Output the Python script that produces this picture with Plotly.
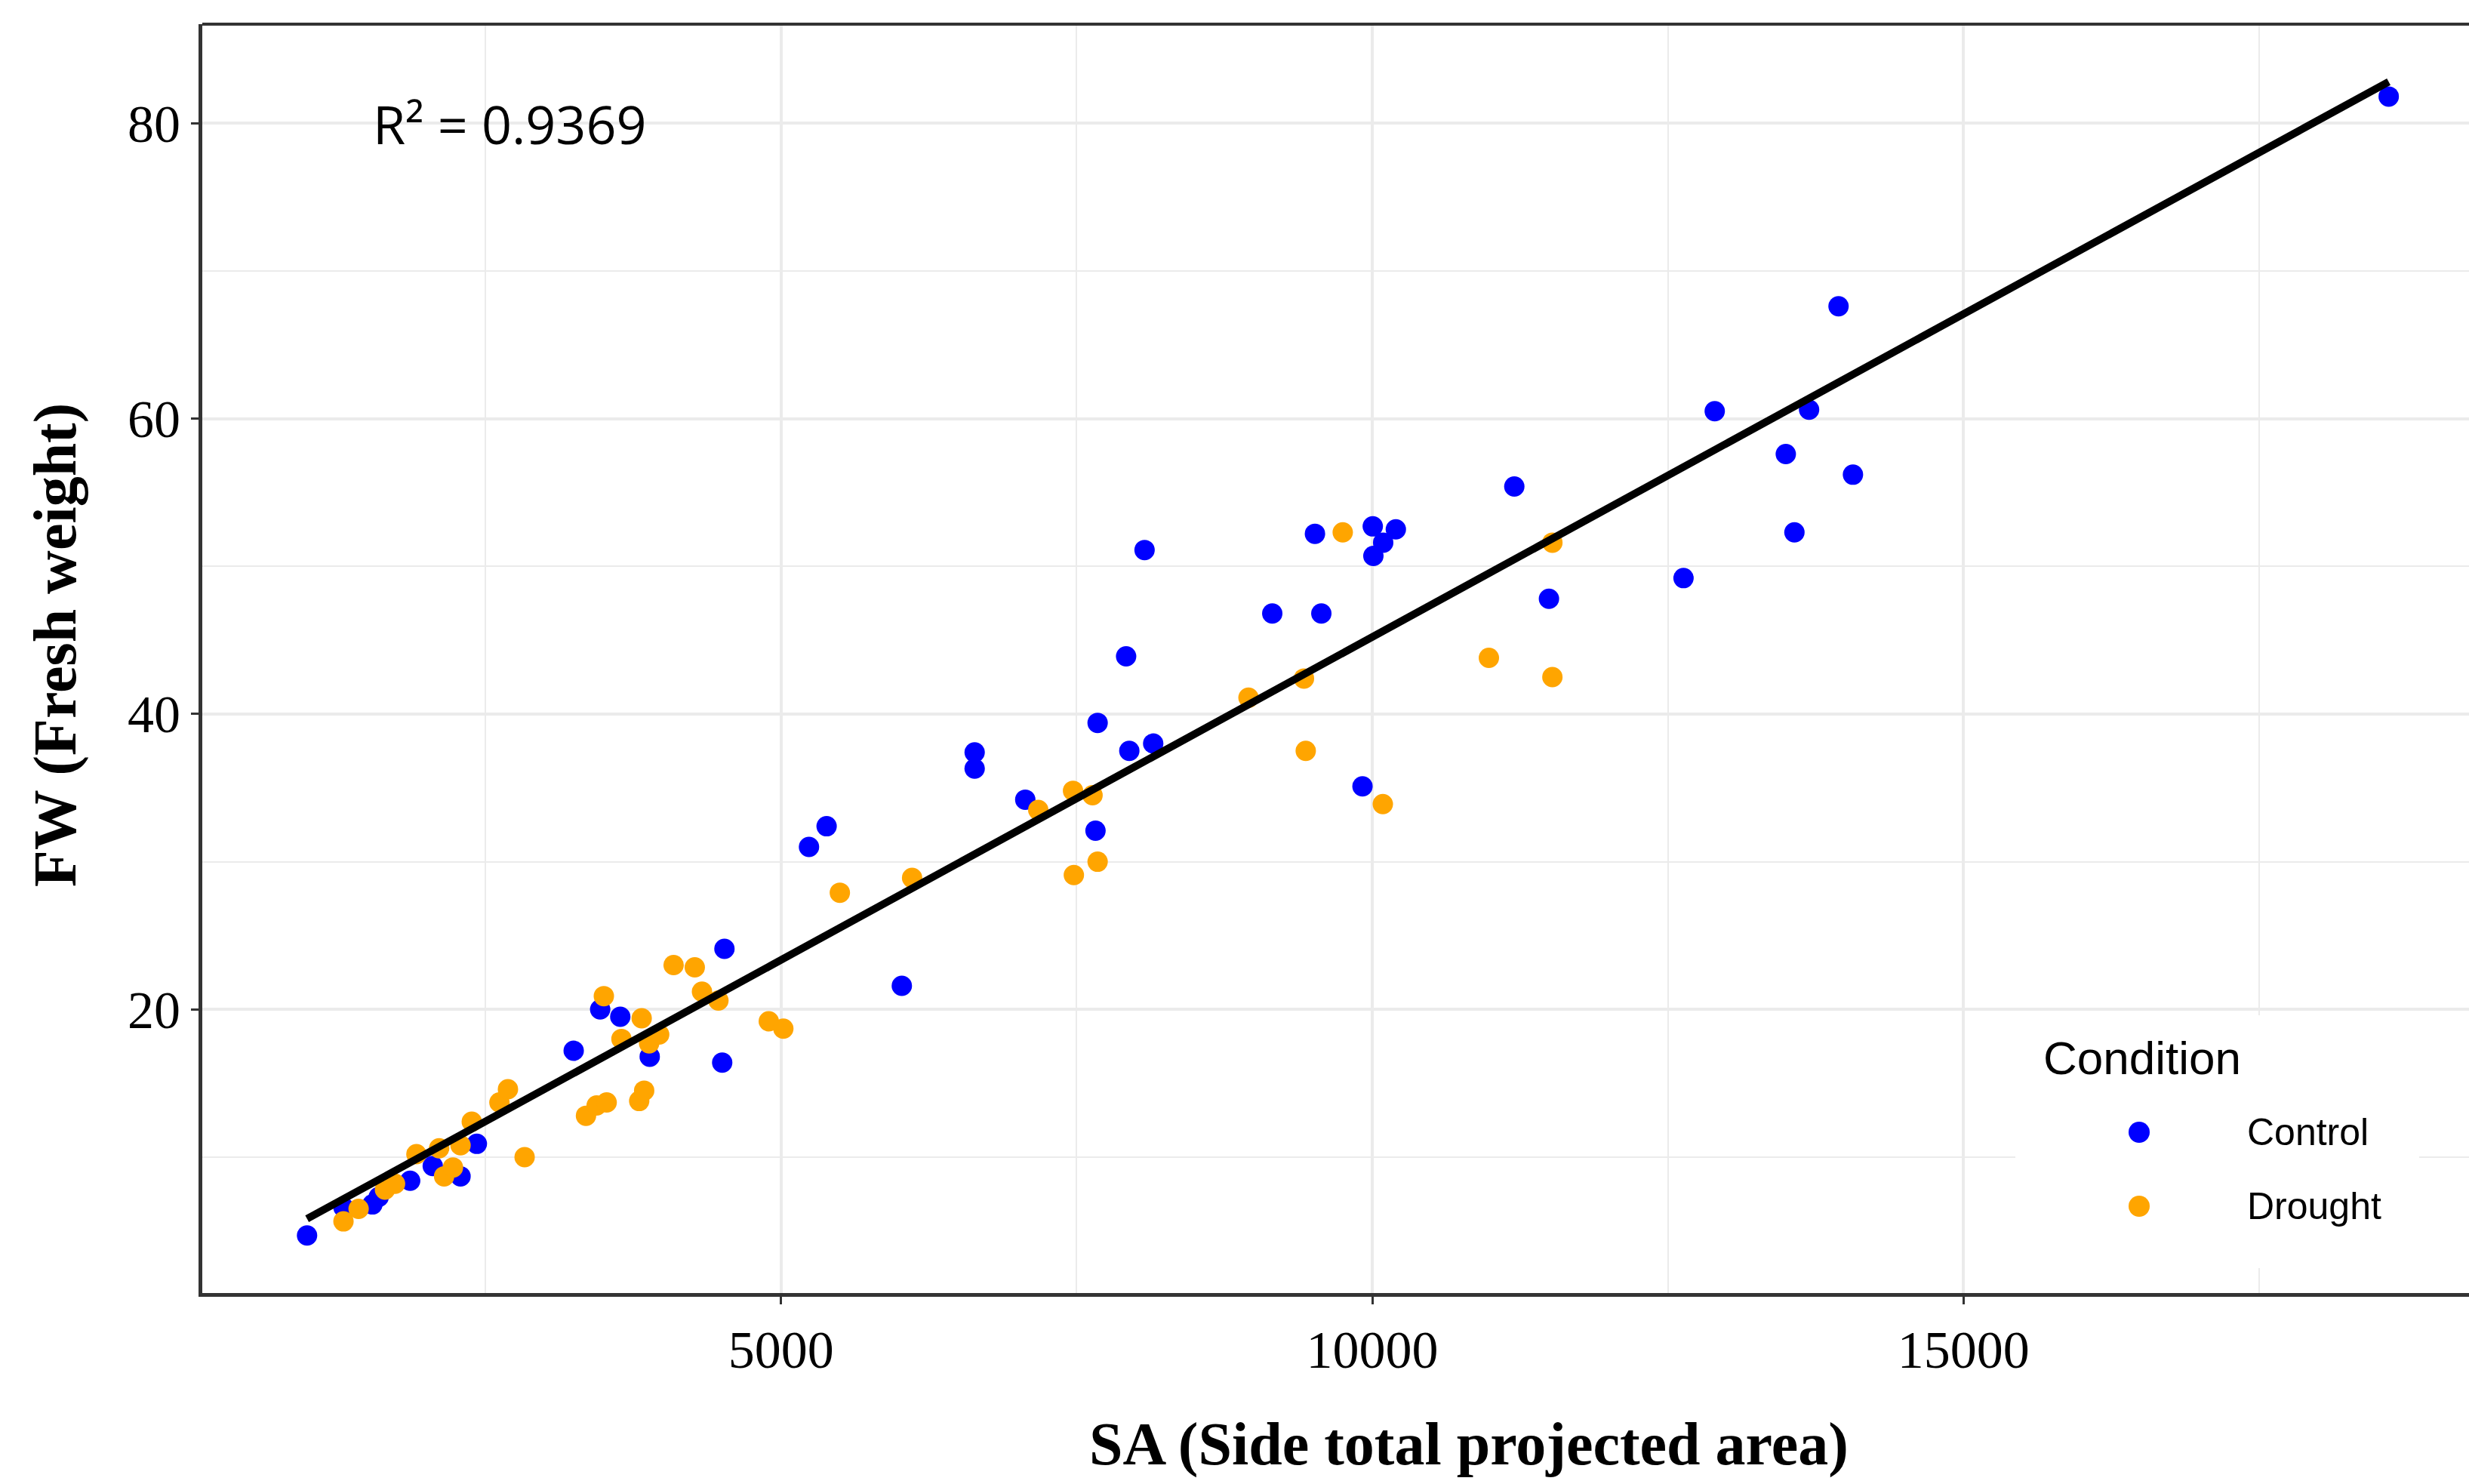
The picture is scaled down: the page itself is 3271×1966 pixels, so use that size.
import numpy as np
import plotly.graph_objects as go

# ---- data ----
control_sa = [991, 1299, 1544, 1597, 1863, 2054, 2289, 2427, 3246, 3470, 3640, 3889,
              4502, 4521, 5236, 5385, 6021, 6637, 6637, 7065, 7659, 7677, 7918, 7945,
              8074, 8147, 9154, 9515, 9569, 9917, 10004, 10009, 10092, 10199, 11201,
              11494, 12632, 12896, 13497, 13570, 13694, 13943, 14065, 18596]
control_fw = [4.7, 6.6, 6.8, 7.3, 8.4, 9.4, 8.7, 10.9, 17.2, 20.0, 19.5, 16.8,
              16.4, 24.1, 31.0, 32.4, 21.6, 37.4, 36.3, 34.2, 32.1, 39.4, 43.9, 37.5,
              51.1, 38.0, 46.8, 52.2, 46.8, 35.1, 52.7, 50.7, 51.6, 52.5, 55.4,
              47.8, 49.2, 60.5, 57.6, 52.3, 60.6, 67.6, 56.2, 81.8]

drought_sa = [1299, 1427, 1650, 1735, 1916, 2108, 2150, 2225, 2289, 2384, 2618, 2690,
              2831, 3350, 3440, 3525, 3501, 3650, 3800, 3842, 3821, 3884, 3969, 4091,
              4270, 4331, 4470, 4896, 5019, 5497, 6108, 7175, 7469, 7476, 7634, 7677,
              8953, 9422, 9437, 9750, 10089, 10986, 11523, 11523]
drought_fw = [5.65, 6.5, 7.8, 8.2, 10.2, 10.6, 8.7, 9.3, 10.8, 12.4, 13.7, 14.6,
              10.0, 12.8, 13.5, 13.7, 20.9, 18.0, 13.8, 14.5, 19.4, 17.7, 18.3, 23.0,
              22.85, 21.2, 20.6, 19.2, 18.7, 27.9, 28.9, 33.5, 34.8, 29.1, 34.5, 30.0,
              41.1, 42.4, 37.5, 52.3, 33.9, 43.8, 51.6, 42.5]

groups = ["Control", "Drought"]
group_colors = ["#0000FF", "#FFA500"]
r2_label = "R\u00b2 = 0.9369"
x_ticks = [5000, 10000, 15000]
y_ticks = [20, 40, 60, 80]

# ---- linear fit over all points ----
all_x = np.array(control_sa + drought_sa, dtype=float)
all_y = np.array(control_fw + drought_fw, dtype=float)
slope, intercept = np.polyfit(all_x, all_y, 1)
fit_x = np.array([all_x.min(), all_x.max()])
fit_y = slope * fit_x + intercept

W, H = 3271, 1966
ML, MR, MT, MB = 268, 0, 32, 253
PW, PH = W - ML - MR, H - MT - MB


def px_x(p):
    return (p - ML) / PW


def px_y(p):
    return (H - MB - p) / PH


fig = go.Figure()
for name, xs, ys, col in [(groups[0], control_sa, control_fw, group_colors[0]),
                          (groups[1], drought_sa, drought_fw, group_colors[1])]:
    fig.add_trace(go.Scatter(x=xs, y=ys, mode="markers", name=name,
                             marker=dict(color=col, size=27, line=dict(width=0)),
                             showlegend=False))
fig.add_trace(go.Scatter(x=fit_x, y=fit_y, mode="lines",
                         line=dict(color="black", width=10), showlegend=False))

grid = "#EBEBEB"
fig.update_xaxes(range=[105, 19275], tickvals=x_ticks, ticktext=[str(v) for v in x_ticks],
                 showgrid=True, gridcolor=grid, gridwidth=4,
                 minor=dict(dtick=2500, tick0=0, showgrid=True, gridcolor=grid, gridwidth=2),
                 zeroline=False, showline=True, linecolor="#333333", linewidth=5,
                 ticks="outside", ticklen=10, tickwidth=3, tickcolor="#333333",
                 tickfont=dict(family="Liberation Serif", size=70, color="black"))
fig.update_yaxes(range=[0.8, 86.7], tickvals=y_ticks, ticktext=[str(v) for v in y_ticks],
                 showgrid=True, gridcolor=grid, gridwidth=4,
                 minor=dict(dtick=10, tick0=0, showgrid=True, gridcolor=grid, gridwidth=2),
                 zeroline=False, showline=True, linecolor="#333333", linewidth=5,
                 ticks="outside", ticklen=10, tickwidth=3, tickcolor="#333333",
                 tickfont=dict(family="Liberation Serif", size=70, color="black"))

shapes = [
    dict(type="line", xref="paper", yref="paper", x0=0, x1=1, y0=1, y1=1,
         line=dict(color="#333333", width=4), layer="above"),
    dict(type="rect", xref="paper", yref="paper",
         x0=px_x(2670), x1=px_x(3205), y0=px_y(1680), y1=px_y(1345),
         fillcolor="white", line=dict(width=0), layer="above"),
]
for col, cy in zip(group_colors, [1500, 1598]):
    shapes.append(dict(type="circle", xref="paper", yref="paper",
                       xsizemode="pixel", ysizemode="pixel",
                       xanchor=px_x(2834), yanchor=px_y(cy),
                       x0=-14, x1=14, y0=-14, y1=14,
                       fillcolor=col, line=dict(width=0), layer="above"))

annotations = [
    dict(text=r2_label, xref="paper", yref="paper", x=px_x(675), y=px_y(164),
         xanchor="center", yanchor="middle", showarrow=False,
         font=dict(family="Open Sans", size=70, color="black")),
    dict(text="<b>SA (Side total projected area)</b>", xref="paper", yref="paper",
         x=px_x(1946), y=px_y(1913), xanchor="center", yanchor="middle", showarrow=False,
         font=dict(family="Liberation Serif", size=80, color="black")),
    dict(text="<b>FW (Fresh weight)</b>", xref="paper", yref="paper",
         x=px_x(73), y=px_y(855), xanchor="center", yanchor="middle", showarrow=False,
         textangle=-90, font=dict(family="Liberation Serif", size=80, color="black")),
    dict(text="Condition", xref="paper", yref="paper", x=px_x(2705), y=px_y(1401),
         xanchor="left", yanchor="middle", showarrow=False,
         font=dict(family="Liberation Sans", size=62, color="black")),
]
for g, cy in zip(groups, [1500, 1598]):
    annotations.append(dict(text=g, xref="paper", yref="paper", x=px_x(2975), y=px_y(cy),
                            xanchor="left", yanchor="middle", showarrow=False,
                            font=dict(family="Liberation Sans", size=50, color="black")))

fig.update_layout(width=W, height=H, margin=dict(l=ML, r=MR, t=MT, b=MB),
                  plot_bgcolor="white", paper_bgcolor="white",
                  shapes=shapes, annotations=annotations, showlegend=False)

fig.write_html("out.html")
